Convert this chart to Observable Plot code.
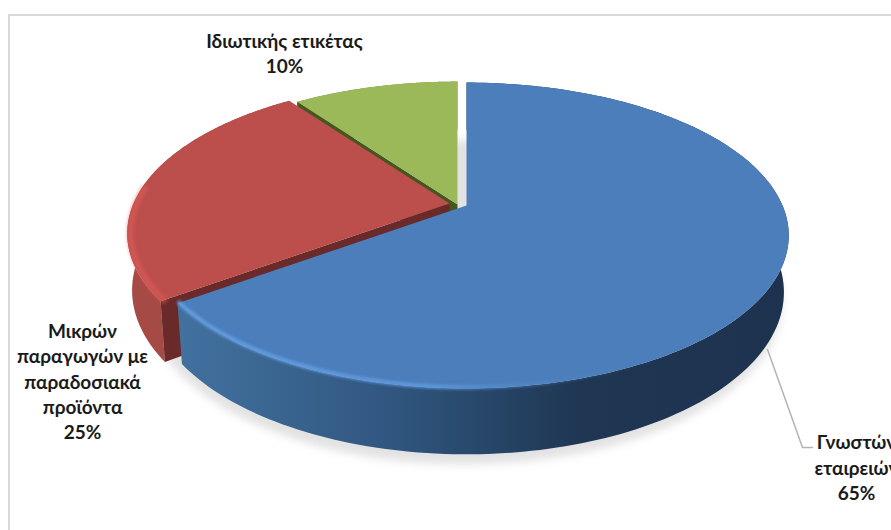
<!DOCTYPE html>
<html lang="el">
<head>
<meta charset="utf-8">
<title>Μερίδια αγοράς</title>
<script src="https://cdn.jsdelivr.net/npm/d3@7"></script>
<script src="https://cdn.jsdelivr.net/npm/@observablehq/plot@0.6"></script>
<style>
  html, body { margin: 0; background: #fff; overflow: hidden; }
  #chart { position: relative; width: 891px; height: 530px; overflow: hidden; }
  #chart svg { display: block; }
  /* Thin chart-area border: only the top and left edges fall inside the page */
  #chart::before {
    content: ""; position: absolute; left: 8px; top: 14px; right: -4px; bottom: -4px;
    border: 2px solid #d9d9d9; pointer-events: none;
  }
</style>
</head>
<body>
<div id="chart"></div>
<script>
// Categories and their shares, clockwise from twelve o'clock
const categories = ["Γνωστών\nεταιρειών", "Μικρών\nπαραγωγών με\nπαραδοσιακά\nπροϊόντα", "Ιδιωτικής ετικέτας"];
const shares = [65, 25, 10];
const topColors = ["#4b7ebb", "#bc4e4b", "#9bb958"];
const rimColors = ["url(#blueRim)", "#a64a45", "#77903f"];
const wallColors = ["#2d4a6e", "#6a2a29", "#47561f"];
const glowColors = ["url(#blueGlow)", "#d95c58", "none"];
const labelX = [856, 82, 284];
const labelY = [466, 380, 51.5];

// Perspective model of the tilted disc
const disc = {cx: 466, cy: 205, radius: 316, height: 147, tilt: 0.196};
const base = {dy: 55, sx: 0.985, sy: 1.06};
const explode = [[0, 0], [-17, -2], [-9, -1]];
const toRad = Math.PI / 180;

// Screen position of a point on the disc; bottom = true gives the lower face
function project(angle, r, offset, bottom = false) {
  const u = r * Math.sin(angle * toRad), v = r * Math.cos(angle * toRad);
  const w = 1 + disc.tilt * v;
  const dx = disc.radius * u / w, dy = -disc.height * v / w;
  return bottom
    ? {x: disc.cx + offset[0] + dx * base.sx, y: disc.cy + offset[1] + base.dy + dy * base.sy}
    : {x: disc.cx + offset[0] + dx, y: disc.cy + offset[1] + dy};
}
const arc = (a0, a1, offset, bottom, r = 1) =>
  d3.range(0, 1.0001, 1 / 180).map(t => project(a0 + (a1 - a0) * t, r, offset, bottom));

// Angular extent of every slice
let total = d3.sum(shares), running = 0;
const slices = shares.map((s, i) => {
  const a0 = running / total * 360;
  running += s;
  return {i, a0, a1: running / total * 360, offset: explode[i]};
});

const wedge = s => [project(0, 0, s.offset), ...arc(s.a0, s.a1, s.offset, false)];
const rim = s => [...arc(s.a0, s.a1, s.offset, false), ...arc(s.a1, s.a0, s.offset, true)];
const wall = (s, a) => [project(0, 0, s.offset), project(a, 1, s.offset), project(a, 1, s.offset, true), project(0, 0, s.offset, true)];
const shape = (pts, fill, extra = {}) => Plot.line(pts, {x: "x", y: "y", fill, stroke: "none", ...extra});

const [blue, red, green] = slices;

// Gradient definitions shared by the rim and the bevel highlights
const gradients = () => {
  const defs = d3.create("svg:defs");
  const add = (id, x1, x2, stops) => {
    const g = defs.append("linearGradient").attr("id", id)
      .attr("gradientUnits", "userSpaceOnUse")
      .attr("x1", x1).attr("x2", x2).attr("y1", 0).attr("y2", 0);
    stops.forEach(([o, c, a = 1]) => g.append("stop").attr("offset", o).attr("stop-color", c).attr("stop-opacity", a));
  };
  add("blueRim", 180, 790, [[0, "#42719f"], [0.35, "#30567f"], [0.65, "#1f3753"], [1, "#1d324e"]]);
  add("blueGlow", 180, 640, [[0, "#659fe4"], [0.55, "#5f99dc"], [1, "#4b7ebb", 0]]);
  return defs.node();
};

const labels = slices.map(s => ({
  text: `${categories[s.i]}\n${shares[s.i]}%`, x: labelX[s.i], y: labelY[s.i]
}));

const leader = [{x: 767, y: 349}, {x: 802, y: 447}, {x: 812, y: 447}];

const chart = Plot.plot({
  width: 891,
  height: 530,
  margin: 0,
  x: {domain: [0, 891], range: [0, 891], axis: null},
  y: {domain: [0, 530], range: [0, 530], axis: null},
  marks: [
    gradients,
    // Soft drop shadow under the whole pie
    shape(arc(0, 360, [-2, 10], true), "#e2e2e2", {imageFilter: "blur(4px)"}),
    // Back slices first, from far to near
    shape(rim(green), rimColors[2]),
    shape(wall(green, green.a0), wallColors[2]),
    shape(rim(red), rimColors[1]),
    shape(wall(red, red.a0), wallColors[1]),
    shape(wedge(green), topColors[2]),
    shape(wedge(red), topColors[1]),
    Plot.line(arc(234, 276, red.offset, false, 0.99), {x: "x", y: "y", stroke: glowColors[1], strokeWidth: 5, strokeOpacity: 0.85, imageFilter: "blur(2px)"}),
    // The large slice sits in front of the others
    shape(rim(blue), rimColors[0]),
    shape(wedge(blue), topColors[0]),
    Plot.line(arc(120, 234, blue.offset, false, 0.995), {x: "x", y: "y", stroke: glowColors[0], strokeWidth: 4, imageFilter: "blur(1.8px)"}),
    // Leader line to the outside label
    Plot.line(leader, {x: "x", y: "y", stroke: "#b3b3b3", strokeWidth: 1.5}),
    Plot.text(labels, {
      x: "x", y: "y", text: "text",
      fontFamily: "Lato, 'Open Sans', sans-serif",
      fontWeight: 700, fontSize: 19, lineHeight: 1.32,
      fill: "#1a1a1a", textAnchor: "middle", lineAnchor: "middle"
    })
  ]
});
document.getElementById("chart").appendChild(chart);
</script>
</body>
</html>
